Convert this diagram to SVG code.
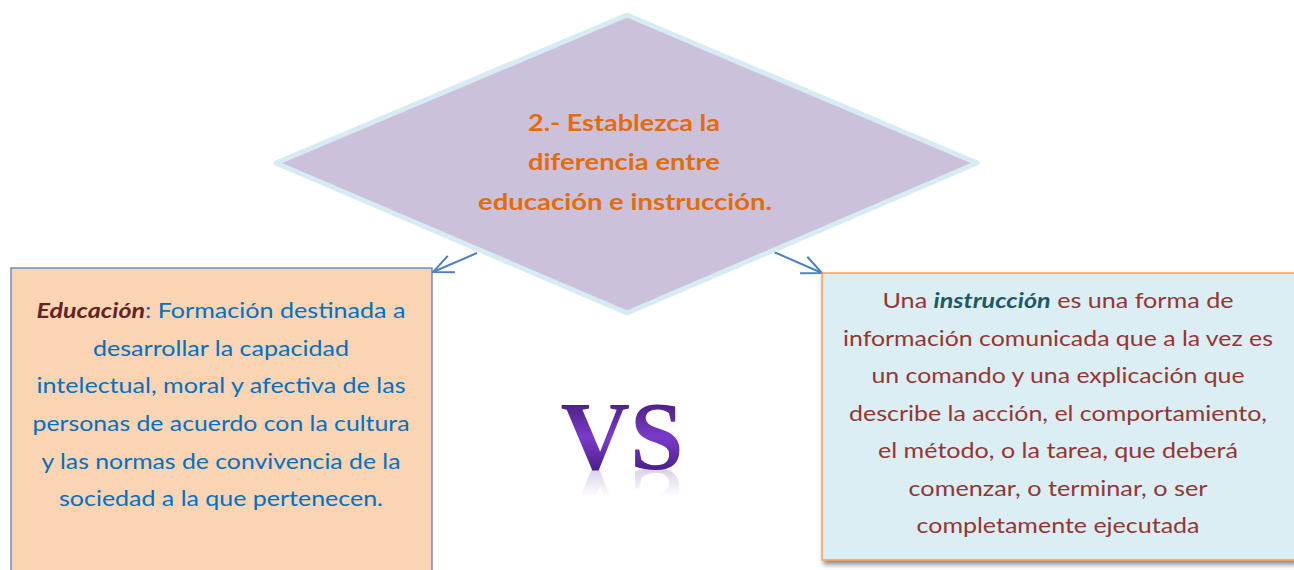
<svg xmlns="http://www.w3.org/2000/svg" xmlns:xlink="http://www.w3.org/1999/xlink" width="1294" height="570" viewBox="0 0 1294 570">
  <style>
    .q { font-family: Lato, "Open Sans", "Liberation Sans", sans-serif; font-weight: bold; font-size: 23.5px; fill: #E36C09; text-anchor: middle; }
    .lt { font-family: Lato, "Open Sans", "Liberation Sans", sans-serif; font-size: 21px; fill: #0070C0; text-anchor: middle; }
    .rt { font-family: Lato, "Open Sans", "Liberation Sans", sans-serif; font-size: 21px; fill: #943634; text-anchor: middle; }
    .conn { stroke: #4F81BD; stroke-width: 2; fill: none; }
    .vs { font-family: "Liberation Serif", "DejaVu Serif", serif; font-weight: bold; font-size: 97px; text-anchor: middle; }
  </style>
  <defs>
    <marker id="open" markerUnits="userSpaceOnUse" markerWidth="24" markerHeight="24" viewBox="0 0 24 24" refX="22" refY="12" orient="auto">
      <path d="M2,3 L22,12 L2,21" fill="none" stroke="#4F81BD" stroke-width="2"/>
    </marker>
    <linearGradient id="vsg" x1="0" y1="404" x2="0" y2="470" gradientUnits="userSpaceOnUse">
      <stop offset="0" stop-color="#4E2185"/>
      <stop offset="0.5" stop-color="#7A3BCB"/>
      <stop offset="1" stop-color="#4C1F88"/>
    </linearGradient>
    <linearGradient id="vsr" x1="0" y1="470" x2="0" y2="440" gradientUnits="userSpaceOnUse">
      <stop offset="0" stop-color="#FFFFFF" stop-opacity="0.4"/>
      <stop offset="1" stop-color="#FFFFFF" stop-opacity="0"/>
    </linearGradient>
    <mask id="fade" maskUnits="userSpaceOnUse" x="540" y="380" width="170" height="100">
      <rect x="540" y="380" width="170" height="100" fill="url(#vsr)"/>
    </mask>
    <filter id="sh" x="-5%" y="-5%" width="110%" height="115%">
      <feDropShadow dx="2" dy="4" stdDeviation="2.5" flood-color="#000" flood-opacity="0.45"/>
    </filter>
  </defs>
  <rect width="1294" height="570" fill="#FFFFFF"/>

  <g id="connectors">
    <line class="conn" x1="477" y1="253" x2="433" y2="272" marker-end="url(#open)"/>
    <line class="conn" x1="774" y1="252" x2="822" y2="273" marker-end="url(#open)"/>
  </g>

  <g id="question">
    <polygon points="627,15 977,163 627,313 276,163" fill="#CCC1DA" stroke="#D6EBF2" stroke-width="5" stroke-linejoin="round"/>
    <text class="q" x="624" y="131" textLength="192" lengthAdjust="spacingAndGlyphs">2.- Establezca la</text>
    <text class="q" x="624" y="170" textLength="192" lengthAdjust="spacingAndGlyphs">diferencia entre</text>
    <text class="q" x="625" y="210" textLength="294" lengthAdjust="spacingAndGlyphs">educación e instrucción.</text>
  </g>

  <g id="educacion">
    <rect x="11" y="268" width="421" height="310" fill="#FBD4B4" stroke="#4F81BD" stroke-width="1.3"/>
    <text class="lt" x="221" y="318" textLength="369" lengthAdjust="spacingAndGlyphs"><tspan font-weight="bold" font-style="italic" fill="#632423">Educación</tspan>: Formación destinada a</text>
    <text class="lt" x="221" y="356" textLength="256" lengthAdjust="spacingAndGlyphs">desarrollar la capacidad</text>
    <text class="lt" x="221" y="393" textLength="369" lengthAdjust="spacingAndGlyphs">intelectual, moral y afectiva de las</text>
    <text class="lt" x="221" y="431" textLength="377" lengthAdjust="spacingAndGlyphs">personas de acuerdo con la cultura</text>
    <text class="lt" x="221" y="469" textLength="359" lengthAdjust="spacingAndGlyphs">y las normas de convivencia de la</text>
    <text class="lt" x="221" y="506" textLength="324" lengthAdjust="spacingAndGlyphs">sociedad a la que pertenecen.</text>
  </g>

  <g id="vs">
    <text id="vsText" class="vs" x="622" y="469" fill="url(#vsg)" textLength="123" lengthAdjust="spacingAndGlyphs">VS</text>
    <g mask="url(#fade)" transform="translate(0,938) scale(1,-1)" opacity="0.55">
      <use xlink:href="#vsText" href="#vsText"/>
    </g>
  </g>

  <g id="instruccion">
    <rect x="822" y="273" width="474" height="287" fill="#DAEEF3" stroke="#F79646" stroke-width="1.3" filter="url(#sh)"/>
    <text class="rt" x="1058" y="308" textLength="351" lengthAdjust="spacingAndGlyphs">Una <tspan font-weight="bold" font-style="italic" fill="#215868">instrucción</tspan> es una forma de</text>
    <text class="rt" x="1058" y="346" textLength="430" lengthAdjust="spacingAndGlyphs">información comunicada que a la vez es</text>
    <text class="rt" x="1058" y="383" textLength="373" lengthAdjust="spacingAndGlyphs">un comando y una explicación que</text>
    <text class="rt" x="1058" y="421" textLength="418" lengthAdjust="spacingAndGlyphs">describe la acción, el comportamiento,</text>
    <text class="rt" x="1058" y="458" textLength="360" lengthAdjust="spacingAndGlyphs">el método, o la tarea, que deberá</text>
    <text class="rt" x="1058" y="496" textLength="299" lengthAdjust="spacingAndGlyphs">comenzar, o terminar, o ser</text>
    <text class="rt" x="1058" y="533" textLength="283" lengthAdjust="spacingAndGlyphs">completamente ejecutada</text>
  </g>
</svg>
